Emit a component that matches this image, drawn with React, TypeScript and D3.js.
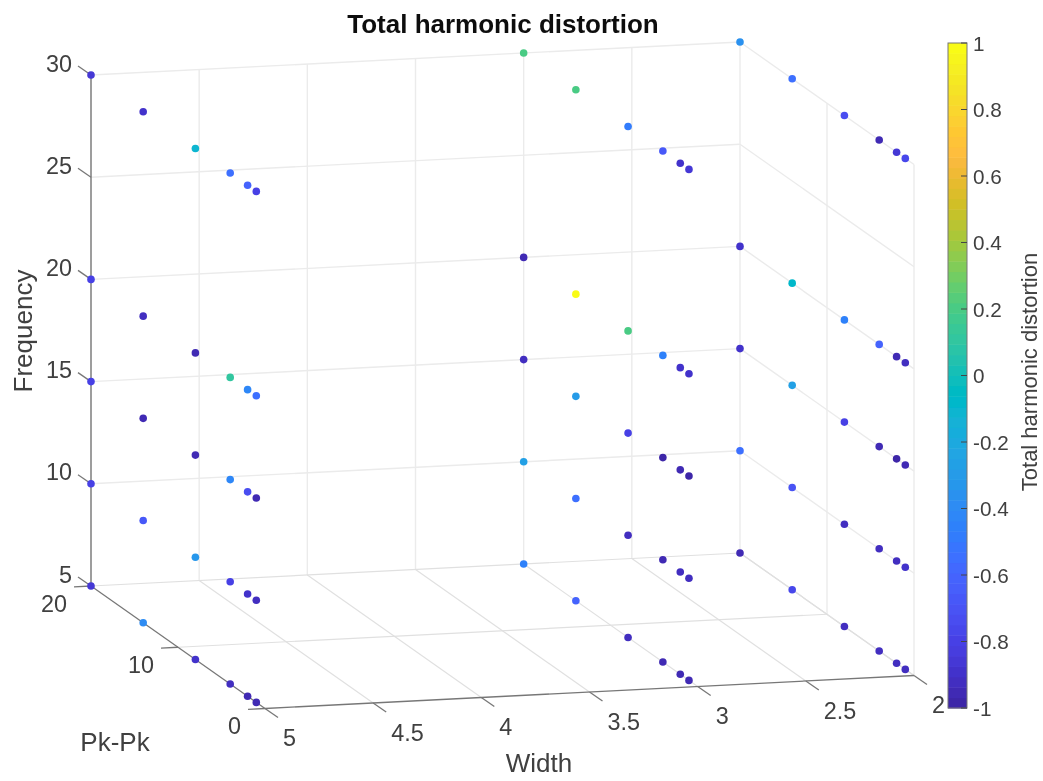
import React from "react";
import * as d3 from "d3";

const widths = [5, 3, 2];
const pkPk = [20, 14, 8, 4, 2, 1];
const frequencies = [30, 20, 15, 10, 5];

// Rows follow frequencies, columns follow pkPk
const thdWidth5 = [
  [-0.85, -0.88, -0.1, -0.55, -0.62, -0.8],
  [-0.8, -0.93, -0.95, 0.12, -0.42, -0.55],
  [-0.8, -0.95, -0.95, -0.42, -0.72, -0.95],
  [-0.8, -0.68, -0.33, -0.8, -0.9, -0.92],
  [-0.85, -0.4, -0.88, -0.93, -0.95, -0.95],
];
const thdWidth3 = [
  [0.2, 0.2, -0.47, -0.68, -0.9, -0.87],
  [-0.95, 1.0, 0.2, -0.45, -0.88, -0.88],
  [-0.93, -0.3, -0.8, -0.97, -0.95, -0.97],
  [-0.28, -0.55, -0.93, -0.95, -0.93, -0.93],
  [-0.45, -0.62, -0.93, -0.95, -0.95, -0.95],
];
const thdWidth2 = [
  [-0.35, -0.55, -0.72, -0.95, -0.85, -0.78],
  [-0.9, -0.08, -0.45, -0.62, -0.95, -0.93],
  [-0.9, -0.27, -0.8, -0.95, -0.97, -0.95],
  [-0.55, -0.7, -0.93, -0.93, -0.93, -0.88],
  [-0.95, -0.78, -0.93, -0.93, -0.93, -0.93],
];
const thdByWidth = [thdWidth5, thdWidth3, thdWidth2];

const widthTicks = [5, 4.5, 4, 3.5, 3, 2.5, 2];
const pkTicks = [20, 10, 0];
const freqTicks = [30, 25, 20, 15, 10, 5];
const colorTicks = [1, 0.8, 0.6, 0.4, 0.2, 0, -0.2, -0.4, -0.6, -0.8, -1];

const parula: number[][] = [
  [0.2422, 0.1504, 0.6603], [0.2504, 0.165, 0.7076], [0.2578, 0.1818, 0.7511], [0.2647, 0.1978, 0.7952],
  [0.2706, 0.2147, 0.8364], [0.2751, 0.2342, 0.871], [0.2783, 0.2559, 0.8991], [0.2803, 0.2782, 0.9221],
  [0.2813, 0.3006, 0.9414], [0.281, 0.3228, 0.9579], [0.2795, 0.3447, 0.9717], [0.276, 0.3667, 0.9829],
  [0.2699, 0.3892, 0.9906], [0.2602, 0.4123, 0.9952], [0.244, 0.4358, 0.9988], [0.2206, 0.4603, 0.9973],
  [0.1963, 0.4847, 0.9892], [0.1834, 0.5074, 0.9798], [0.1786, 0.5289, 0.9682], [0.1764, 0.5499, 0.952],
  [0.1687, 0.5703, 0.9359], [0.154, 0.5902, 0.9218], [0.146, 0.6091, 0.9079], [0.138, 0.6276, 0.8973],
  [0.1248, 0.6459, 0.8883], [0.1113, 0.6635, 0.8763], [0.0952, 0.6798, 0.8598], [0.0689, 0.6948, 0.8394],
  [0.0297, 0.7082, 0.8163], [0.0036, 0.7203, 0.7917], [0.0067, 0.7312, 0.766], [0.0433, 0.7411, 0.7394],
  [0.0964, 0.75, 0.712], [0.1408, 0.7584, 0.6842], [0.1717, 0.767, 0.6554], [0.1938, 0.7758, 0.6251],
  [0.2161, 0.7843, 0.5923], [0.247, 0.7912, 0.5567], [0.2906, 0.7973, 0.5188], [0.3406, 0.8008, 0.4789],
  [0.3909, 0.8029, 0.4354], [0.4456, 0.8024, 0.3909], [0.5044, 0.7993, 0.348], [0.5616, 0.7942, 0.3045],
  [0.6174, 0.7876, 0.2612], [0.672, 0.7793, 0.2227], [0.7242, 0.7698, 0.191], [0.7738, 0.7598, 0.1646],
  [0.8203, 0.7498, 0.1535], [0.8634, 0.7406, 0.1596], [0.9035, 0.733, 0.1774], [0.9393, 0.7288, 0.21],
  [0.9728, 0.7298, 0.2394], [0.9956, 0.7434, 0.2371], [0.997, 0.7659, 0.2199], [0.9952, 0.7861, 0.1967],
  [0.9892, 0.8135, 0.1884], [0.9786, 0.8386, 0.1766], [0.9676, 0.8639, 0.1643], [0.961, 0.889, 0.1537],
  [0.9597, 0.9135, 0.1423], [0.9628, 0.9373, 0.1265], [0.9691, 0.9606, 0.1064], [0.9769, 0.9839, 0.0805],
];

const FONT = "'Liberation Sans', Arial, Helvetica, sans-serif";
const INK = "#404040";

const wScale = d3.scaleLinear().domain([5, 2]).range([0, 1]);
const pScale = d3.scaleLinear().domain([20, 0]).range([0, 1]);
const fScale = d3.scaleLinear().domain([5, 30]).range([0, -511]);
const cScale = d3.scaleLinear().domain([-1, 1]).range([708, 43]);

const origin = [91, 586];
const wVec = [649, -33];
const pVec = [174, 122.5];

function project(w: number, p: number, f: number): [number, number] {
  const a = wScale(w);
  const b = pScale(p);
  return [origin[0] + a * wVec[0] + b * pVec[0], origin[1] + a * wVec[1] + b * pVec[1] + fScale(f)];
}

function colorOf(v: number): string {
  const i = Math.min(63, Math.max(0, Math.floor(((v + 1) / 2) * 64)));
  const c = parula[i];
  return d3.rgb(c[0] * 255, c[1] * 255, c[2] * 255).formatHex();
}

function seg(a: [number, number], b: [number, number]): string {
  return d3.line()([a, b]) as string;
}

const gridW = [4.5, 4, 3.5, 3, 2.5, 2];

export default function App() {
  const grid: string[] = [];
  const floor: string[] = [];
  gridW.forEach((w) => {
    grid.push(seg(project(w, 20, 5), project(w, 20, 30)));
    floor.push(seg(project(w, 20, 5), project(w, 0, 5)));
  });
  [10, 0].forEach((p) => {
    grid.push(seg(project(2, p, 5), project(2, p, 30)));
  });
  floor.push(seg(project(5, 10, 5), project(2, 10, 5)));
  floor.push(seg(project(5, 20, 5), project(2, 20, 5)));
  freqTicks.filter((f) => f !== 5).forEach((f) => {
    grid.push(seg(project(5, 20, f), project(2, 20, f)));
    grid.push(seg(project(2, 20, f), project(2, 0, f)));
  });
  floor.push(seg(project(2, 20, 5), project(2, 0, 5)));

  const points = widths.flatMap((w, wi) =>
    frequencies.flatMap((f, fi) =>
      pkPk.map((p, pi) => {
        const [x, y] = project(w, p, f);
        return { key: `${w}-${f}-${p}`, x, y, v: thdByWidth[wi][fi][pi] };
      })
    )
  );

  const barX0 = 948;
  const barX1 = 967;

  return (
    <svg
      width={1043}
      height={781}
      viewBox="0 0 1043 781"
      style={{ position: "absolute", left: 0, top: 0, display: "block", background: "#fff" }}
      fontFamily={FONT}
    >
      <defs>
        <filter id="soft" x="-2%" y="-2%" width="104%" height="104%">
          <feGaussianBlur stdDeviation="0.45" />
        </filter>
      </defs>
      <rect width={1043} height={781} fill="#fff" />
      <g filter="url(#soft)">
        <g fill="none" stroke="#ebebeb" strokeWidth={1.4}>
          {grid.map((d, i) => (
            <path key={i} d={d} />
          ))}
        </g>
        <g fill="none" stroke="#e0e0e0" strokeWidth={1.2}>
          {floor.map((d, i) => (
            <path key={i} d={d} />
          ))}
        </g>

        {/* axis lines */}
        <g fill="none" stroke="#777" strokeWidth={1.3}>
          <path d={seg(project(5, 20, 5), project(5, 20, 30))} stroke="#8c8c8c" strokeWidth={1.7} />
          <path d={seg(project(5, 20, 5), project(5, 0, 5))} />
          <path d={seg(project(5, 0, 5), project(2, 0, 5))} />
          {freqTicks.map((f) => {
            const [x, y] = project(5, 20, f);
            return <path key={f} d={seg([x - 13, y - 9], [x, y])} />;
          })}
          {pkTicks.map((p) => {
            const [x, y] = project(5, p, 5);
            return <path key={p} d={seg([x - 17, y + 0.8], [x, y])} />;
          })}
          {widthTicks.map((w) => {
            const [x, y] = project(w, 0, 5);
            return <path key={w} d={seg([x, y], [x + 13, y + 9])} />;
          })}
        </g>

        {/* tick labels */}
        <g fontSize={23.4} fill={INK}>
          {freqTicks.map((f) => {
            const [x, y] = project(5, 20, f);
            return (
              <text key={f} x={x - 19} y={y - 3.5} textAnchor="end">
                {f}
              </text>
            );
          })}
          {pkTicks.map((p) => {
            const [x, y] = project(5, p, 5);
            return (
              <text key={p} x={x - 24} y={y + 25.5} textAnchor="end">
                {p}
              </text>
            );
          })}
          {widthTicks.map((w) => {
            const [x, y] = project(w, 0, 5);
            return (
              <text key={w} x={x + 18} y={y + 37.5}>
                {w}
              </text>
            );
          })}
        </g>

        {/* scatter */}
        <g>
          {points.map((pt) => (
            <circle key={pt.key} cx={pt.x} cy={pt.y} r={3.8} fill={colorOf(pt.v)} />
          ))}
        </g>

        {/* axis titles */}
        <text x={503} y={33} fontSize={26} fontWeight="bold" textAnchor="middle" fill="#111">
          Total harmonic distortion
        </text>
        <text x={539} y={772} fontSize={26} textAnchor="middle" fill={INK}>
          Width
        </text>
        <text x={115} y={751} fontSize={26} textAnchor="middle" fill={INK}>
          Pk-Pk
        </text>
        <text transform="translate(32,331) rotate(-90)" fontSize={26} textAnchor="middle" fill={INK}>
          Frequency
        </text>

        {/* colorbar */}
        <g>
          {parula.map((c, i) => {
            const v0 = -1 + (i / 64) * 2;
            const v1 = -1 + ((i + 1) / 64) * 2;
            return (
              <rect
                key={i}
                x={barX0}
                width={barX1 - barX0}
                y={cScale(v1)}
                height={cScale(v0) - cScale(v1) + 0.5}
                fill={d3.rgb(c[0] * 255, c[1] * 255, c[2] * 255).formatHex()}
              />
            );
          })}
          <rect
            x={barX0}
            y={cScale(1)}
            width={barX1 - barX0}
            height={cScale(-1) - cScale(1)}
            fill="none"
            stroke="#777"
            strokeWidth={1}
          />
          {colorTicks.map((t) => (
            <g key={t}>
              <path d={seg([barX1 - 6, cScale(t)], [barX1, cScale(t)])} stroke="#444" strokeWidth={1} />
              <text x={973} y={cScale(t) + 7.5} fontSize={20.7} fill={INK}>
                {t}
              </text>
            </g>
          ))}
        </g>
        <text transform="translate(1037,372) rotate(-90)" fontSize={22} textAnchor="middle" fill={INK}>
          Total harmonic distortion
        </text>
      </g>
    </svg>
  );
}
